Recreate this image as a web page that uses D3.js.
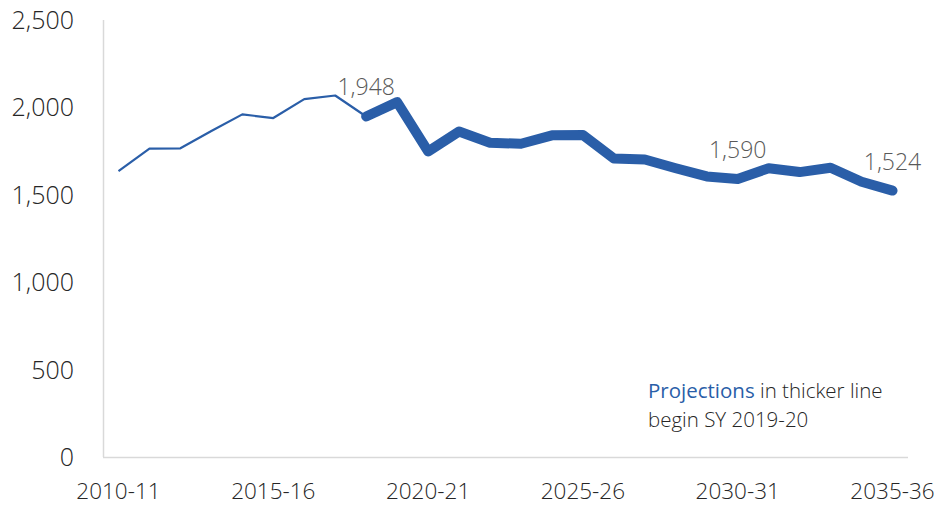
<!DOCTYPE html>
<html><head><meta charset="utf-8">
<script src="https://cdn.jsdelivr.net/npm/d3@7"></script>
<style>
html,body{margin:0;padding:0;background:#fff;}
svg text{font-family:"Open Sans",sans-serif;font-weight:300;}
</style></head>
<body><svg id="c" width="936" height="506"></svg>
<script>
const years = ["2010-11","2011-12","2012-13","2013-14","2014-15","2015-16","2016-17","2017-18","2018-19","2019-20","2020-21","2021-22","2022-23","2023-24","2024-25","2025-26","2026-27","2027-28","2028-29","2029-30","2030-31","2031-32","2032-33","2033-34","2034-35","2035-36"];
const historical = [1636,1764,1766,1865,1960,1939,2047,2068,1948];
const projected = [1948,2030,1748,1862,1798,1792,1840,1842,1708,1702,1652,1605,1590,1652,1630,1655,1575,1524];
const xTickLabels = ["2010-11","2015-16","2020-21","2025-26","2030-31","2035-36"];
const yTicks = [0,500,1000,1500,2000,2500];
const labelled = [{year:"2018-19",value:1948},{year:"2030-31",value:1590},{year:"2035-36",value:1524}];

const svg = d3.select("#c");
const x = d3.scalePoint().domain(years).range([103,908]).padding(0.5);
const y = d3.scaleLinear().domain([0,2500]).range([457,20]);
const fmt = d3.format(",");

svg.append("line").attr("x1",103.5).attr("x2",103.5).attr("y1",20).attr("y2",457).attr("stroke","#d9d9d9").attr("stroke-width",1.5);
svg.append("line").attr("x1",103).attr("x2",908).attr("y1",457.5).attr("y2",457.5).attr("stroke","#d9d9d9").attr("stroke-width",1.5);

svg.append("g").selectAll("text").data(yTicks).join("text")
  .attr("x",74).attr("y",d=>y(d)).attr("dy","0.36em").attr("text-anchor","end")
  .attr("font-size",25).attr("fill","#262626").text(d=>fmt(d));

svg.append("g").selectAll("text").data(xTickLabels).join("text")
  .attr("x",d=>x(d)).attr("y",499).attr("text-anchor","middle")
  .attr("font-size",22.5).attr("fill","#262626").text(d=>d);

const line = d3.line().x(d=>x(d.year)).y(d=>y(d.value));
const histData = historical.map((v,i)=>({year:years[i],value:v}));
const projData = projected.map((v,i)=>({year:years[i+8],value:v}));

svg.append("path").datum(histData).attr("d",line).attr("fill","none")
  .attr("stroke","#2a5ea8").attr("stroke-width",2.2).attr("stroke-linejoin","round");
svg.append("path").datum(projData).attr("d",line).attr("fill","none")
  .attr("stroke","#2a5ea8").attr("stroke-width",10).attr("stroke-linejoin","round").attr("stroke-linecap","round");

svg.append("g").selectAll("text").data(labelled).join("text")
  .attr("x",d=>x(d.year)).attr("y",d=>y(d.value)-21).attr("text-anchor","middle")
  .attr("font-size",23).attr("fill","#595959").text(d=>fmt(d.value));

const leg = svg.append("text").attr("x",648).attr("y",398).attr("font-size",20.5).attr("fill","#262626");
leg.append("tspan").attr("fill","#2a5ea8").attr("font-weight",400).text("Projections");
leg.append("tspan").text(" in thicker line");
svg.append("text").attr("x",648).attr("y",427).attr("font-size",20.5).attr("fill","#262626").text("begin SY 2019-20");
</script></body></html>
